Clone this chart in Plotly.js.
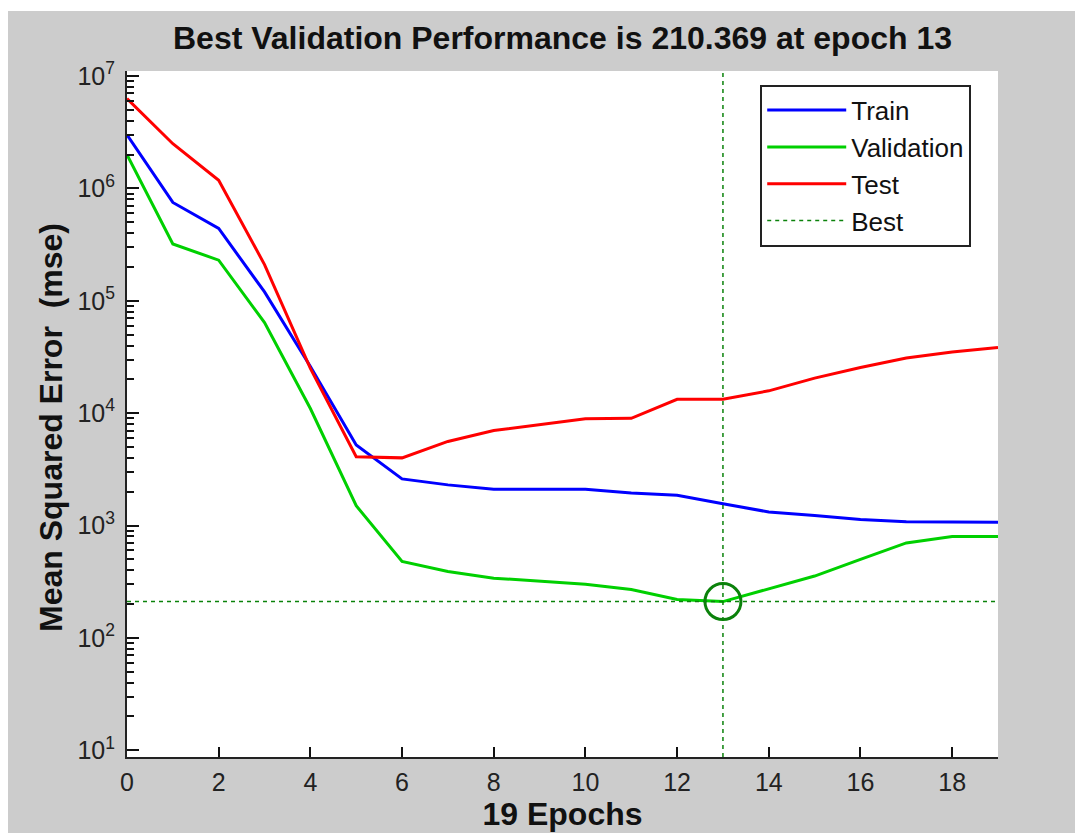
<!DOCTYPE html>
<html>
<head>
<meta charset="utf-8">
<script src="https://cdn.plot.ly/plotly-3.0.1.min.js"></script>
<style>
html,body{margin:0;padding:0;background:#ffffff;}
#chart{position:absolute;left:8px;top:11px;width:1067px;height:822px;}
</style>
</head>
<body>
<div id="chart"></div>
<script>
const epochs = [0,1,2,3,4,5,6,7,8,9,10,11,12,13,14,15,16,17,18,19];
const train = [3.0e6,7.5e5,4.4e5,1.2e5,2.6e4,5.2e3,2.6e3,2.3e3,2.1e3,2.1e3,2.1e3,1.95e3,1.86e3,1.56e3,1.32e3,1.23e3,1.13e3,1.08e3,1.07e3,1.07e3];
const validation = [2.0e6,3.2e5,2.3e5,6.4e4,1.1e4,1.5e3,480,390,340,320,300,270,220,210.369,275,355,500,700,800,800];
const test = [6.3e6,2.5e6,1.18e6,2.1e5,2.5e4,4.1e3,4.0e3,5.6e3,7.0e3,7.9e3,8.9e3,9.0e3,1.33e4,1.33e4,1.58e4,2.05e4,2.55e4,3.1e4,3.5e4,3.85e4];
const bestEpoch = 13;
const bestPerf = 210.369;
const yTickVals = [10,100,1000,10000,100000,1000000,10000000];
const yTickText = ['10<sup>1</sup>','10<sup>2</sup>','10<sup>3</sup>','10<sup>4</sup>','10<sup>5</sup>','10<sup>6</sup>','10<sup>7</sup>'];
const xTickVals = [0,2,4,6,8,10,12,14,16,18];
const minorMultipliers = [2,3,4,5,6,7,8,9];

const minorTickVals = [];
yTickVals.slice(0, -1).forEach(d => minorMultipliers.forEach(m => minorTickVals.push(d * m)));
const allTickVals = yTickVals.concat(minorTickVals);
const allTickText = yTickText.concat(minorTickVals.map(() => ''));

const font = 'Liberation Sans, Arial, Helvetica, sans-serif';
const bestColor = '#0b820b';
const yRange = [0.94, 7.045];

const traces = [
  {x: epochs, y: train, name: 'Train', mode: 'lines', line: {color: '#0000ff', width: 3}},
  {x: epochs, y: validation, name: 'Validation', mode: 'lines', line: {color: '#00d000', width: 3}},
  {x: epochs, y: test, name: 'Test', mode: 'lines', line: {color: '#ff0000', width: 3}},
  {x: [epochs[0], epochs[epochs.length-1]], y: [bestPerf, bestPerf], name: 'Best', mode: 'lines',
   line: {color: bestColor, width: 1.5, dash: '4px,4px'}},
  {x: [bestEpoch], y: [bestPerf], mode: 'markers', showlegend: false,
   marker: {symbol: 'circle-open', size: 36, color: bestColor, line: {width: 3, color: bestColor}}},
  {x: [bestEpoch], y: [bestPerf], yaxis: 'y2', mode: 'markers', showlegend: false, hoverinfo: 'skip',
   marker: {size: 1, opacity: 0}}
];

const layout = {
  width: 1067, height: 822,
  paper_bgcolor: '#cccccc', plot_bgcolor: '#ffffff',
  margin: {l: 119, r: 77, t: 60, b: 76},
  font: {family: font, color: '#1a1a1a'},
  title: {text: '<b>Best Validation Performance is 210.369 at epoch 13</b>', font: {size: 32, color: '#111'},
          x: 0.5, xref: 'paper', y: 0.967, yref: 'container', yanchor: 'middle'},
  xaxis: {range: [0, 19], tickvals: xTickVals, ticks: 'inside', ticklen: 10, tickwidth: 2, tickcolor: '#111',
          showline: true, linewidth: 2, linecolor: '#222', showgrid: false, zeroline: false,
          tickfont: {size: 25, color: '#222'}, ticklabelstandoff: 2,
          title: {text: '<b>19 Epochs</b>', font: {size: 32, color: '#111'}, standoff: 0}},
  yaxis: {type: 'log', range: yRange, tickmode: 'array', tickvals: allTickVals, ticktext: allTickText,
          ticks: 'inside', ticklen: 7, tickwidth: 2, tickcolor: '#111',
          showline: true, linewidth: 2, linecolor: '#222', showgrid: false, zeroline: false,
          tickfont: {size: 25, color: '#222'}, ticklabelstandoff: 5},
  yaxis2: {type: 'log', range: yRange, overlaying: 'y', anchor: 'x', side: 'left',
           tickmode: 'array', tickvals: yTickVals, ticks: 'inside', ticklen: 12, tickwidth: 2,
           tickcolor: '#111', showticklabels: false, showline: false, showgrid: false, zeroline: false},
  annotations: [
    {text: '<b>Mean Squared Error  (mse)</b>', xref: 'paper', yref: 'paper', x: -0.0873, y: 0.481,
     xanchor: 'center', yanchor: 'middle', textangle: -90, showarrow: false, font: {size: 32, color: '#111'}}
  ],
  legend: {x: 0.727, y: 0.98, xanchor: 'left', yanchor: 'top', bgcolor: '#ffffff',
           bordercolor: '#222', borderwidth: 2, font: {size: 26, color: '#111'},
           itemwidth: 79, tracegroupgap: 0},
  shapes: [
    {type: 'line', xref: 'x', yref: 'paper', x0: bestEpoch, x1: bestEpoch, y0: 0, y1: 1,
     line: {color: bestColor, width: 1.5, dash: '4px,4px'}, layer: 'above'}
  ],
  showlegend: true
};

Plotly.newPlot('chart', traces, layout, {displayModeBar: false, staticPlot: true});
</script>
</body>
</html>
